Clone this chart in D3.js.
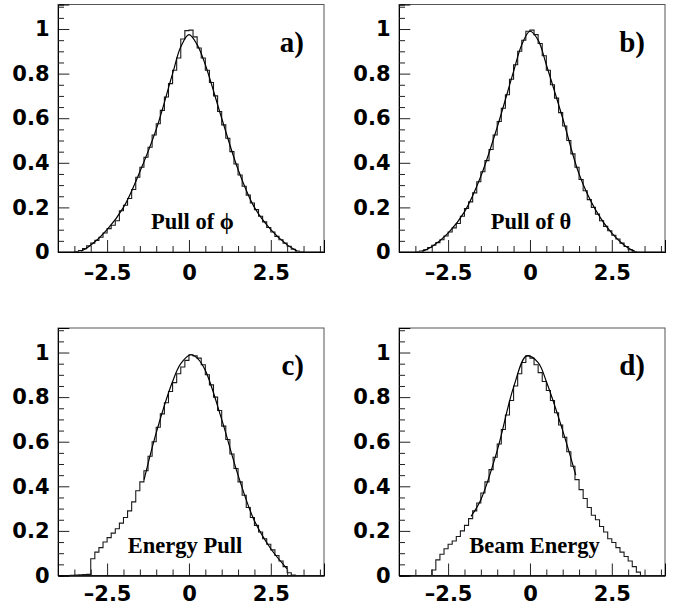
<!DOCTYPE html>
<html><head><meta charset="utf-8">
<script src="https://cdn.jsdelivr.net/npm/d3@7"></script>
<style>html,body{margin:0;padding:0;background:#fff;} svg{display:block}</style>
</head><body>
<svg id="chart" width="677" height="607"></svg>
<script>
// Histogram binning (65 bins of 0.125 from -4)
const binStart = -4, binWidth = 0.125;

// a) Pull of phi
const phiPull = [0,0,0,0,
 0.002,0.006,0.015,0.028,0.040,0.052,0.066,0.085,0.105,0.120,0.140,0.185,0.210,0.240,0.280,0.335,
 0.380,0.425,0.470,0.525,0.575,0.635,0.695,0.755,0.815,0.870,0.955,0.993,0.995,0.965,0.915,0.870,
 0.815,0.760,0.700,0.630,0.570,0.510,0.450,0.395,0.345,0.295,0.255,0.220,0.190,0.160,0.135,0.110,
 0.090,0.070,0.055,0.040,0.026,0.012,0.004,0.001,
 0,0,0,0,0];
// b) Pull of theta
const thetaPull = [0,0,0,0,
 0.001,0.004,0.010,0.020,0.030,0.042,0.055,0.072,0.090,0.108,0.128,0.160,0.195,0.225,0.265,0.315,
 0.360,0.410,0.460,0.525,0.585,0.645,0.705,0.775,0.840,0.900,0.950,0.990,0.995,0.975,0.935,0.880,
 0.815,0.750,0.690,0.625,0.565,0.500,0.440,0.380,0.325,0.275,0.235,0.200,0.170,0.140,0.115,0.095,
 0.075,0.058,0.040,0.025,0.010,0.002,
 0,0,0,0,0,0,0];
// c) Energy Pull
const energyPull = [0,0,0,
 0.001,0.002,0.003,0.004,0.005,0.075,0.105,0.125,0.150,0.170,0.190,0.210,0.235,0.260,0.290,0.330,
 0.380,0.420,0.470,0.535,0.600,0.665,0.725,0.775,0.825,0.865,0.905,0.935,0.965,0.990,0.985,0.975,
 0.945,0.900,0.855,0.800,0.740,0.670,0.610,0.545,0.480,0.420,0.360,0.305,0.260,0.225,0.195,0.165,
 0.140,0.115,0.090,0.065,0.040,0.012,0.002,
 0,0,0,0,0,0,0];
// d) Beam Energy
const beamEnergy = [0,0,0,0,0,0,0,0,
 0.025,0.070,0.095,0.120,0.140,0.155,0.175,0.200,0.225,0.255,0.290,0.325,0.370,0.420,0.475,0.530,
 0.590,0.655,0.720,0.785,0.850,0.905,0.955,0.985,0.975,0.945,0.910,0.870,0.830,0.785,0.730,0.675,
 0.620,0.555,0.490,0.430,0.385,0.345,0.305,0.270,0.250,0.220,0.195,0.165,0.148,0.125,0.105,0.085,
 0.065,0.040,0.015,
 0,0,0,0,0,0];

// Fit curves
const fitAX = [-3.3,-3,-2.5,-2,-1.5,-1,-0.5,-0.25,0,0.25,0.5,1,1.5,2,2.5,3,3.3];
const fitAY = [0.003,0.03,0.10,0.20,0.36,0.55,0.80,0.92,0.975,0.93,0.84,0.60,0.37,0.20,0.10,0.032,0.005];
const fitBX = [-3.3,-3,-2.5,-2,-1.5,-1,-0.5,-0.25,0,0.25,0.5,1,1.5,2,2.5,3,3.2];
const fitBY = [0.003,0.024,0.085,0.18,0.34,0.56,0.81,0.93,0.99,0.95,0.84,0.60,0.35,0.19,0.085,0.018,0.004];
const fitCX = [-1.37,-1,-0.5,-0.25,0.05,0.25,0.5,1,1.5,2,2.5,3];
const fitCY = [0.43,0.64,0.87,0.95,0.99,0.975,0.92,0.70,0.45,0.245,0.12,0.03];
const fitDX = [-1.8,-1.5,-1,-0.5,-0.1,0.25,0.5,1,1.4];
const fitDY = [0.265,0.34,0.56,0.845,0.985,0.955,0.87,0.65,0.45];

// Axis ticks
const xMajor = [-2.5, 0, 2.5];
const xMinor = [-3.5,-3,-2,-1.5,-1,-0.5,0.5,1,1.5,2,3,3.5,4];
const yMajor = [0, 0.2, 0.4, 0.6, 0.8, 1];
const yMinor = [0.05,0.1,0.15,0.25,0.3,0.35,0.45,0.5,0.55,0.65,0.7,0.75,0.85,0.9,0.95,1.05,1.1];

const labels = ["a)", "b)", "c)", "d)"];
const titles = ["Pull of \u03D5", "Pull of \u03B8", "Energy Pull", "Beam Energy"];

const panels = [
  {hist: phiPull,    fx: fitAX, fy: fitAY, left: 58,  top: 4.5, tx: 134.5, pad: 13.4},
  {hist: thetaPull,  fx: fitBX, fy: fitBY, left: 399, top: 4.5, tx: 132,   pad: 13.4},
  {hist: energyPull, fx: fitCX, fy: fitCY, left: 58,  top: 328, tx: 127,   pad: 11},
  {hist: beamEnergy, fx: fitDX, fy: fitDY, left: 399, top: 328, tx: 135.5, pad: 11}
];

const W = 266, H = 247.5;
const svg = d3.select("#chart");
const fmt = d => d < 0 ? "\u2013" + Math.abs(d) : String(d);

panels.forEach((p, k) => {
  const g = svg.append("g").attr("transform", `translate(${p.left},${p.top})`);
  const x = d3.scaleLinear().domain([-4, 4.125]).range([0, W]);
  const y = d3.scaleLinear().domain([0, 1.11]).range([H, 0]);

  const clipId = "clip" + k;
  g.append("clipPath").attr("id", clipId).append("rect").attr("width", W).attr("height", H);

  // histogram outline
  const pts = [];
  p.hist.forEach((v, i) => {
    const x0 = binStart + i * binWidth;
    pts.push([x0, v], [x0 + binWidth, v]);
  });
  g.append("path")
    .attr("clip-path", `url(#${clipId})`)
    .attr("d", d3.line().x(d => x(d[0])).y(d => y(d[1]))(pts))
    .attr("fill", "none").attr("stroke", "#1a1a1a").attr("stroke-width", 1.1);

  // fit curve
  const fpts = p.fx.map((v, i) => [v, p.fy[i]]);
  g.append("path")
    .attr("clip-path", `url(#${clipId})`)
    .attr("d", d3.line().x(d => x(d[0])).y(d => y(d[1])).curve(d3.curveCatmullRom)(fpts))
    .attr("fill", "none").attr("stroke", "#000").attr("stroke-width", 1.2);

  // frame
  g.append("rect").attr("width", W).attr("height", H)
    .attr("fill", "none").attr("stroke", "#555").attr("stroke-width", 1);

  const font = "'DejaVu Sans', sans-serif";
  // y axis
  const ya = g.append("g").call(d3.axisLeft(y).tickValues(yMajor).tickSize(-11.3).tickPadding(8.5).tickFormat(fmt));
  const yb = g.append("g").call(d3.axisLeft(y).tickValues(yMinor).tickSize(-6).tickFormat(""));
  // x axis
  const xa = g.append("g").attr("transform", `translate(0,${H})`)
    .call(d3.axisBottom(x).tickValues(xMajor).tickSize(-12).tickPadding(p.pad).tickFormat(fmt));
  const xb = g.append("g").attr("transform", `translate(0,${H})`)
    .call(d3.axisBottom(x).tickValues(xMinor).tickSize(-6).tickFormat(""));
  [ya, yb, xa, xb].forEach(a => {
    a.select(".domain").attr("stroke", "#000");
    a.selectAll(".tick line").attr("stroke", "#222");
    a.selectAll("text").attr("font-family", font).attr("font-weight", "bold")
      .attr("font-size", "21px").attr("fill", "#000");
  });

  // panel label
  g.append("text").attr("x", W - 20).attr("y", 47)
    .attr("text-anchor", "end")
    .attr("font-family", "'Liberation Serif', 'Times New Roman', serif")
    .attr("font-weight", "bold").attr("font-size", "29px")
    .text(labels[k]);

  // title
  g.append("text").attr("x", p.tx).attr("y", 224.5)
    .attr("text-anchor", "middle")
    .attr("font-family", "'Liberation Serif', 'Times New Roman', serif")
    .attr("font-weight", "bold").attr("font-size", "22.5px")
    .text(titles[k]);
});
</script>
</body></html>
